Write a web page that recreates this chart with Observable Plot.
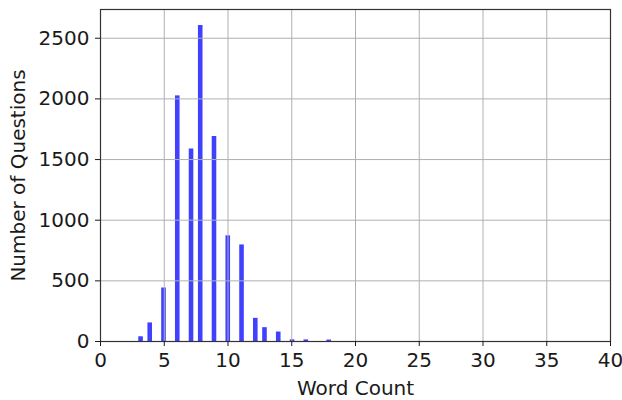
<!DOCTYPE html>
<html>
<head>
<meta charset="utf-8">
<script src="https://cdn.jsdelivr.net/npm/d3@7"></script>
<script src="https://cdn.jsdelivr.net/npm/@observablehq/plot@0.6"></script>
<style>
  html, body { margin: 0; padding: 0; background: #fff; }
</style>
</head>
<body>
<div id="chart"></div>
<script>
// Word count per question and number of questions with that count
const wordCounts = [3, 4, 5, 6, 7, 8, 9, 10, 11, 12, 13, 14, 15, 16, 18];
const questionCounts = [39, 153, 441, 2025, 1587, 2605, 1690, 871, 796, 191, 114, 78, 14, 13, 12];
// histogram bins: 50 bins of width 0.36 from 3 to 21
const binStart = 3, binCount = 50, binWidthHundredths = 36;
const xTicks = [0, 5, 10, 15, 20, 25, 30, 35, 40];
const yTicks = [0, 500, 1000, 1500, 2000, 2500];

const data = wordCounts.map((w, i) => ({words: w, count: questionCounts[i]}));
const thresholds = d3.range(0, binCount + 1).map(i => binStart + i * binWidthHundredths / 100);

const chart = Plot.plot({
  width: 622,
  height: 400,
  marginLeft: 100,
  marginRight: 12,
  marginTop: 9,
  marginBottom: 59,
  style: {fontFamily: "DejaVu Sans", fontSize: "20px", color: "#1a1a1a", background: "#fff"},
  x: {domain: [0, 40]},
  y: {domain: [0, 2737]},
  marks: [
    Plot.rectY(data, Plot.binX({y: "sum"}, {x: "words", y: "count", thresholds, fill: "#4040ff", inset: 0})),
    Plot.gridX(xTicks, {stroke: "#b0b0b0", strokeOpacity: 1, strokeWidth: 1}),
    Plot.gridY(yTicks, {stroke: "#b0b0b0", strokeOpacity: 1, strokeWidth: 1}),
    Plot.frame({stroke: "#333", strokeWidth: 1.2}),
    Plot.axisX(xTicks, {tickSize: 5, tickPadding: 6, fontSize: 20, tickFormat: "d", label: "Word Count", labelAnchor: "center", labelOffset: 53, labelArrow: "none"}),
    Plot.axisY(yTicks, {tickSize: 5, tickPadding: 6, fontSize: 20, tickFormat: "d", label: "Number of Questions", labelAnchor: "center", labelOffset: 90, labelArrow: "none"})
  ]
});
document.getElementById("chart").appendChild(chart);
</script>
</body>
</html>
